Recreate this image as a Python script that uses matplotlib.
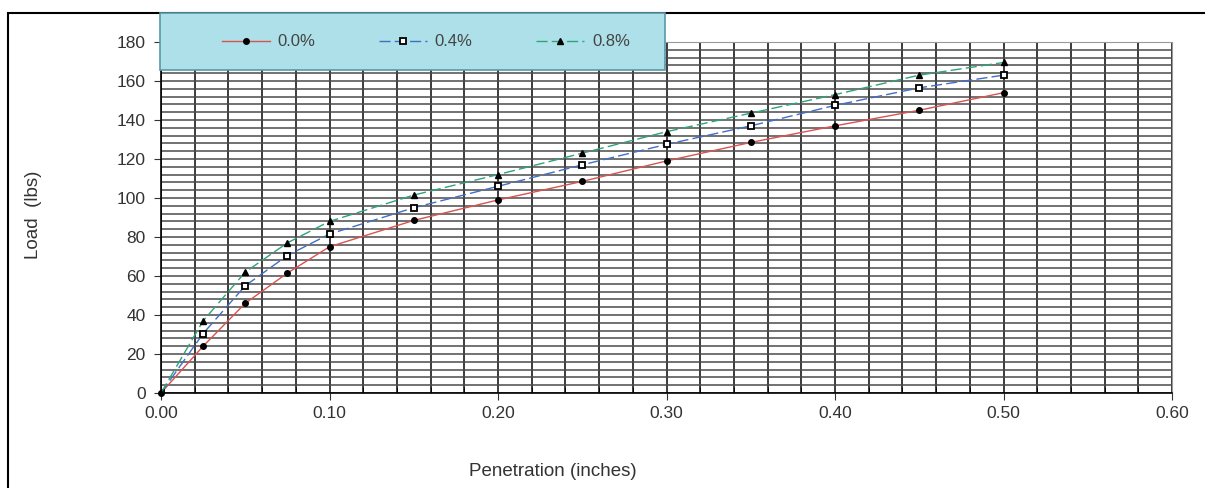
import matplotlib
matplotlib.use("Agg")
import matplotlib.pyplot as plt
from matplotlib.patches import Rectangle
from matplotlib.ticker import MultipleLocator

penetration = [0.0, 0.025, 0.05, 0.075, 0.10, 0.15, 0.20, 0.25, 0.30, 0.35, 0.40, 0.45, 0.50]
load_00 = [0, 24, 46, 61.5, 75, 88.5, 99, 108.5, 119, 128.5, 137, 145, 154]
load_04 = [0, 30.5, 55, 70.5, 81.5, 95, 106, 117, 127.5, 137, 147.5, 156.5, 163]
load_08 = [0, 37, 62, 77, 88, 101.5, 112, 123, 134, 143.5, 153, 163, 169.5]
series_labels = ["0.0%", "0.4%", "0.8%"]
x_ticks = [0.0, 0.1, 0.2, 0.3, 0.4, 0.5, 0.6]
y_ticks = list(range(0, 181, 20))


def main():
    plt.rcParams["font.family"] = ["Liberation Sans", "DejaVu Sans"]
    fig = plt.figure(figsize=(12.05, 4.88), dpi=100)
    ax = fig.add_axes([161 / 1205, 1 - 393 / 488, 1011 / 1205, 351 / 488])

    # outer chart frame
    fig.patches.append(Rectangle((8 / 1205, -0.2), 1.2, 1 - 13 / 488 + 0.2,
                                 transform=fig.transFigure, fill=False,
                                 edgecolor="black", linewidth=1.5))

    lines = []
    lines += ax.plot(penetration, load_00, color="#d9534f", lw=1.0, marker="o",
                     ms=4, mfc="black", mec="black", zorder=3, clip_on=False)
    lines += ax.plot(penetration, load_04, color="#3f6fc9", lw=1.0, ls=(0, (8, 3)),
                     marker="s", ms=5, mfc="white", mec="black", mew=1.3,
                     zorder=3)
    lines += ax.plot(penetration, load_08, color="#2fa37a", lw=1.0, ls=(0, (8, 3)),
                     marker="^", ms=5, mfc="black", mec="black", zorder=3)

    ax.set_xlim(0, 0.6)
    ax.set_ylim(0, 180)
    ax.set_xticks(x_ticks)
    ax.set_xticklabels([f"{t:.2f}" for t in x_ticks])
    ax.set_yticks(y_ticks)
    ax.xaxis.set_minor_locator(MultipleLocator(0.02))
    ax.yaxis.set_minor_locator(MultipleLocator(4))
    ax.grid(which="both", axis="x", color="#1a1a1a", lw=1.2)
    ax.grid(which="both", axis="y", color="#4a4a4a", lw=1.1)
    ax.set_axisbelow(True)

    ax.tick_params(axis="x", which="major", direction="out", length=5,
                   labelsize=12.5, pad=4, colors="#333333")
    ax.tick_params(axis="x", which="minor", direction="in", length=4)
    ax.tick_params(axis="y", which="major", direction="out", length=5,
                   labelsize=12.5, pad=6, colors="#333333")
    ax.tick_params(axis="y", which="minor", length=0)
    for name in ["top", "right"]:
        ax.spines[name].set_color("#999999")
    ax.spines["left"].set_color("black")
    ax.spines["bottom"].set_color("black")
    ax.spines["left"].set_linewidth(1.2)
    ax.spines["bottom"].set_linewidth(1.2)

    ax.set_xlabel("Penetration (inches)", fontsize=13.5, color="#333333")
    ax.xaxis.set_label_coords((553 - 161) / 1011, -0.2)
    ax.set_ylabel("Load  (lbs)", fontsize=13.5, color="#333333")
    ax.yaxis.set_label_coords((42 - 161) / 1011, (393 - 215) / 351)

    # legend box with light water-blue background
    fig.patches.append(Rectangle((160 / 1205, 1 - 70 / 488), 505 / 1205, 57 / 488,
                                 transform=fig.transFigure, facecolor="#ade0e8",
                                 edgecolor="#5a98a8", linewidth=1.2, zorder=4))
    leg = fig.legend(lines, series_labels, loc="center left", ncol=3,
                     frameon=False, bbox_to_anchor=(222 / 1205, 1 - 42 / 488),
                     fontsize=12, handlelength=2.9, handletextpad=0.45,
                     columnspacing=3.8, borderpad=0, borderaxespad=0)
    leg.set_zorder(5)
    for txt in leg.get_texts():
        txt.set_color("#444444")

    fig.savefig("out.png", dpi=100)


if __name__ == "__main__":
    main()
